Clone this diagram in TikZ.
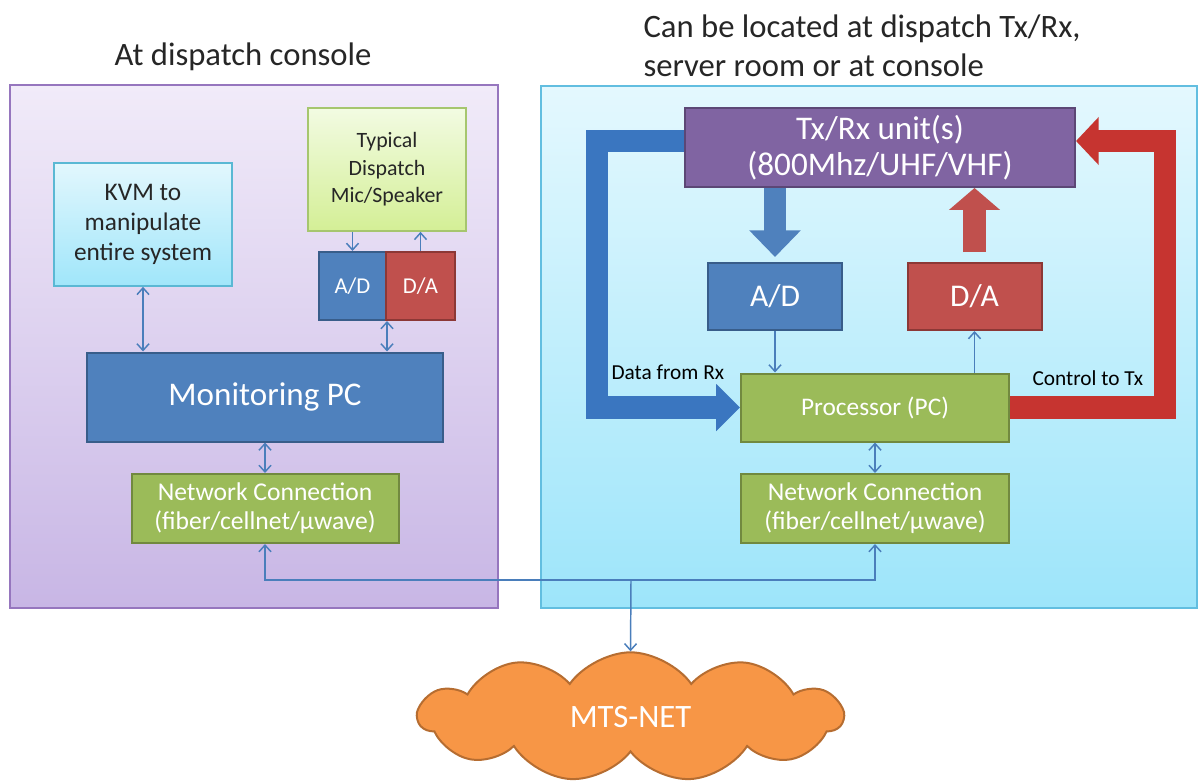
\documentclass[tikz,border=0pt]{standalone}
\usepackage{fontspec}
\setmainfont{Carlito}
\usetikzlibrary{arrows.meta,shapes.symbols,calc}

\definecolor{lpaneltop}{RGB}{241,235,249}
\definecolor{lpanelbot}{RGB}{200,182,229}
\definecolor{lpanelline}{RGB}{150,118,190}
\definecolor{rpaneltop}{RGB}{228,248,254}
\definecolor{rpanelbot}{RGB}{157,229,250}
\definecolor{rpanelline}{RGB}{98,190,224}
\definecolor{kvmtop}{RGB}{226,247,253}
\definecolor{kvmbot}{RGB}{160,230,250}
\definecolor{kvmline}{RGB}{90,184,212}
\definecolor{mictop}{RGB}{242,251,226}
\definecolor{micbot}{RGB}{212,239,150}
\definecolor{micline}{RGB}{166,198,110}
\definecolor{adfill}{RGB}{79,129,189}
\definecolor{adline}{RGB}{56,93,138}
\definecolor{dafill}{RGB}{192,80,77}
\definecolor{daline}{RGB}{140,56,54}
\definecolor{pcfill}{RGB}{155,187,89}
\definecolor{pcline}{RGB}{113,137,63}
\definecolor{txfill}{RGB}{128,100,162}
\definecolor{txline}{RGB}{92,71,118}
\definecolor{netfill}{RGB}{247,150,70}
\definecolor{netline}{RGB}{182,109,49}
\definecolor{linkblue}{RGB}{74,126,187}
\definecolor{bandblue}{RGB}{58,118,192}
\definecolor{bandred}{RGB}{198,52,48}

\tikzset{every picture/.style={line width=0.75pt}}
\tikzset{
  panel/.style={draw, line width=1.5pt, inner sep=0pt},
  unit/.style={draw, line width=1.5pt, inner sep=0pt, align=center, text=white},
  title/.style={inner sep=0pt, align=left, text=black!85, font=\fontsize{24.5}{29.25}\selectfont},
  lbl/.style={inner sep=0pt, text=black, font=\fontsize{16}{19}\selectfont},
  link/.style={draw=linkblue, line width=1.1pt, >={Straight Barb[length=5pt,width=9pt]}},
  bandb/.style={draw=bandblue, line width=17pt, line join=miter, -{Triangle[length=18pt,width=34.5pt]}},
  bandr/.style={draw=bandred, line width=17pt, line join=miter, -{Triangle[length=17pt,width=35pt]}},
}

\begin{document}
\begin{tikzpicture}[x=0.75pt,y=0.75pt,yscale=-1,xscale=1]
\useasboundingbox (0,0) rectangle (1198,784);

%Shape: Rectangle [console side]
\node[panel, top color=lpaneltop, bottom color=lpanelbot, draw=lpanelline, minimum width=366pt, minimum height=392pt] (console) at (254,346.5) {};
%Shape: Rectangle [radio side]
\node[panel, top color=rpaneltop, bottom color=rpanelbot, draw=rpanelline, minimum width=492pt, minimum height=391.5pt] (site) at (869,347) {};

% Text Node
\node[title] (consoletitle) at (243,57) {At dispatch console};
% Text Node
\node[title, anchor=west] (sitetitle) at (643,46) {Can be located at dispatch Tx/Rx,\\server room or at console};

%Shape: Rectangle
\node[unit, top color=kvmtop, bottom color=kvmbot, draw=kvmline, text=black!85, minimum width=133.5pt, minimum height=92pt, font=\fontsize{19}{22.5}\selectfont] (kvm) at (143,224.5) {KVM to\\manipulate\\entire system};
%Shape: Rectangle
\node[unit, top color=mictop, bottom color=micbot, draw=micline, text=black!85, minimum width=118.5pt, minimum height=92pt, font=\fontsize{16.4}{20.6}\selectfont] (mic) at (387,169.5) {Typical\\Dispatch\\Mic/Speaker};
%Shape: Rectangle
\node[unit, fill=adfill, draw=adline, minimum width=50.25pt, minimum height=51pt, font=\fontsize{17}{20}\selectfont] (adl) at (352.5,286) {A/D};
%Shape: Rectangle
\node[unit, fill=dafill, draw=daline, minimum width=51.75pt, minimum height=51pt, font=\fontsize{17}{20}\selectfont] (dal) at (420.5,286) {D/A};
%Shape: Rectangle
\node[unit, fill=adfill, draw=adline, minimum width=267pt, minimum height=66.75pt, font=\fontsize{24.8}{29}\selectfont] (mon) at (265,397) {Monitoring PC};
%Shape: Rectangle
\node[unit, fill=pcfill, draw=pcline, minimum width=200.25pt, minimum height=51.75pt, font=\fontsize{19.2}{22}\selectfont] (ncl) at (265,508.5) {Network Connection\\(fiber/cellnet/µwave)};

%Shape: Rectangle
\node[unit, fill=txfill, draw=txline, minimum width=292.5pt, minimum height=59.25pt, font=\fontsize{24.8}{27}\selectfont] (txrx) at (880,147.5) {Tx/Rx unit(s)\\(800Mhz/UHF/VHF)};
%Shape: Rectangle
\node[unit, fill=adfill, draw=adline, minimum width=100.5pt, minimum height=50.25pt, font=\fontsize{23.7}{28}\selectfont] (adr) at (775,296.5) {A/D};
%Shape: Rectangle
\node[unit, fill=dafill, draw=daline, minimum width=100.5pt, minimum height=50.25pt, font=\fontsize{23.7}{28}\selectfont] (dar) at (974.5,296.5) {D/A};
%Shape: Rectangle
\node[unit, fill=pcfill, draw=pcline, minimum width=201pt, minimum height=51pt, font=\fontsize{19}{22}\selectfont] (proc) at (875,407.5) {Processor (PC)};
%Shape: Rectangle
\node[unit, fill=pcfill, draw=pcline, minimum width=201pt, minimum height=51.75pt, font=\fontsize{19.2}{22}\selectfont] (ncr) at (875,508.5) {Network Connection\\(fiber/cellnet/µwave)};

%Shape: Cloud
\node[cloud, cloud puffs=11, cloud puff arc=110, aspect=3.3, draw=netline, fill=netfill, line width=1.5pt, minimum width=318pt, minimum height=97pt, text=white, font=\fontsize{24.5}{29}\selectfont] (net) at (630.5,717) {MTS-NET};

%Block Arrows
\draw[bandb] ($(txrx.west)+(0,-6.5)$) -| ($(proc.west)+(-143,0)$) -- (proc.west);
\draw[bandr] (proc.east) -| ($(txrx.east)+(89,-6.5)$) -- ($(txrx.east)+(0,-6.5)$);
\draw[draw=adfill, line width=16.5pt, -{Triangle[length=20pt,width=37.5pt]}] (adr.north |- txrx.south) -- ($(adr.north)+(0,-5)$);
\draw[draw=dafill, line width=17pt, -{Triangle[length=16.5pt,width=37.5pt]}] ($(dar.north)+(0,-10)$) -- (dar.north |- txrx.south);

% Text Node
\node[lbl, anchor=west] (datarx) at (611,372) {Data from Rx};
% Text Node
\node[lbl, anchor=west] (ctrltx) at (1032,378) {Control to Tx};

%Straight Lines
\draw[link, ->] (adl.north |- mic.south) -- (adl.north);
\draw[link, ->] (dal.north) -- (dal.north |- mic.south);
\draw[link, <->] (kvm.south) -- (kvm.south |- mon.north);
\draw[link, <->] (adl.south east) -- (adl.south east |- mon.north);
\draw[link, <->] (mon.south) -- (ncl.north);
\draw[link, ->] (adr.south) -- (adr.south |- proc.north);
\draw[link, ->] (proc.north -| dar.south) -- (dar.south);
\draw[link, <->] (proc.south) -- (ncr.north);

\coordinate (split) at (631,580);
\draw[link, ->] (split) -| (ncl.south);
\draw[link, ->] (split) -| (ncr.south);
\draw[link, ->] (split) -- (net.north);

\end{tikzpicture}
\end{document}
